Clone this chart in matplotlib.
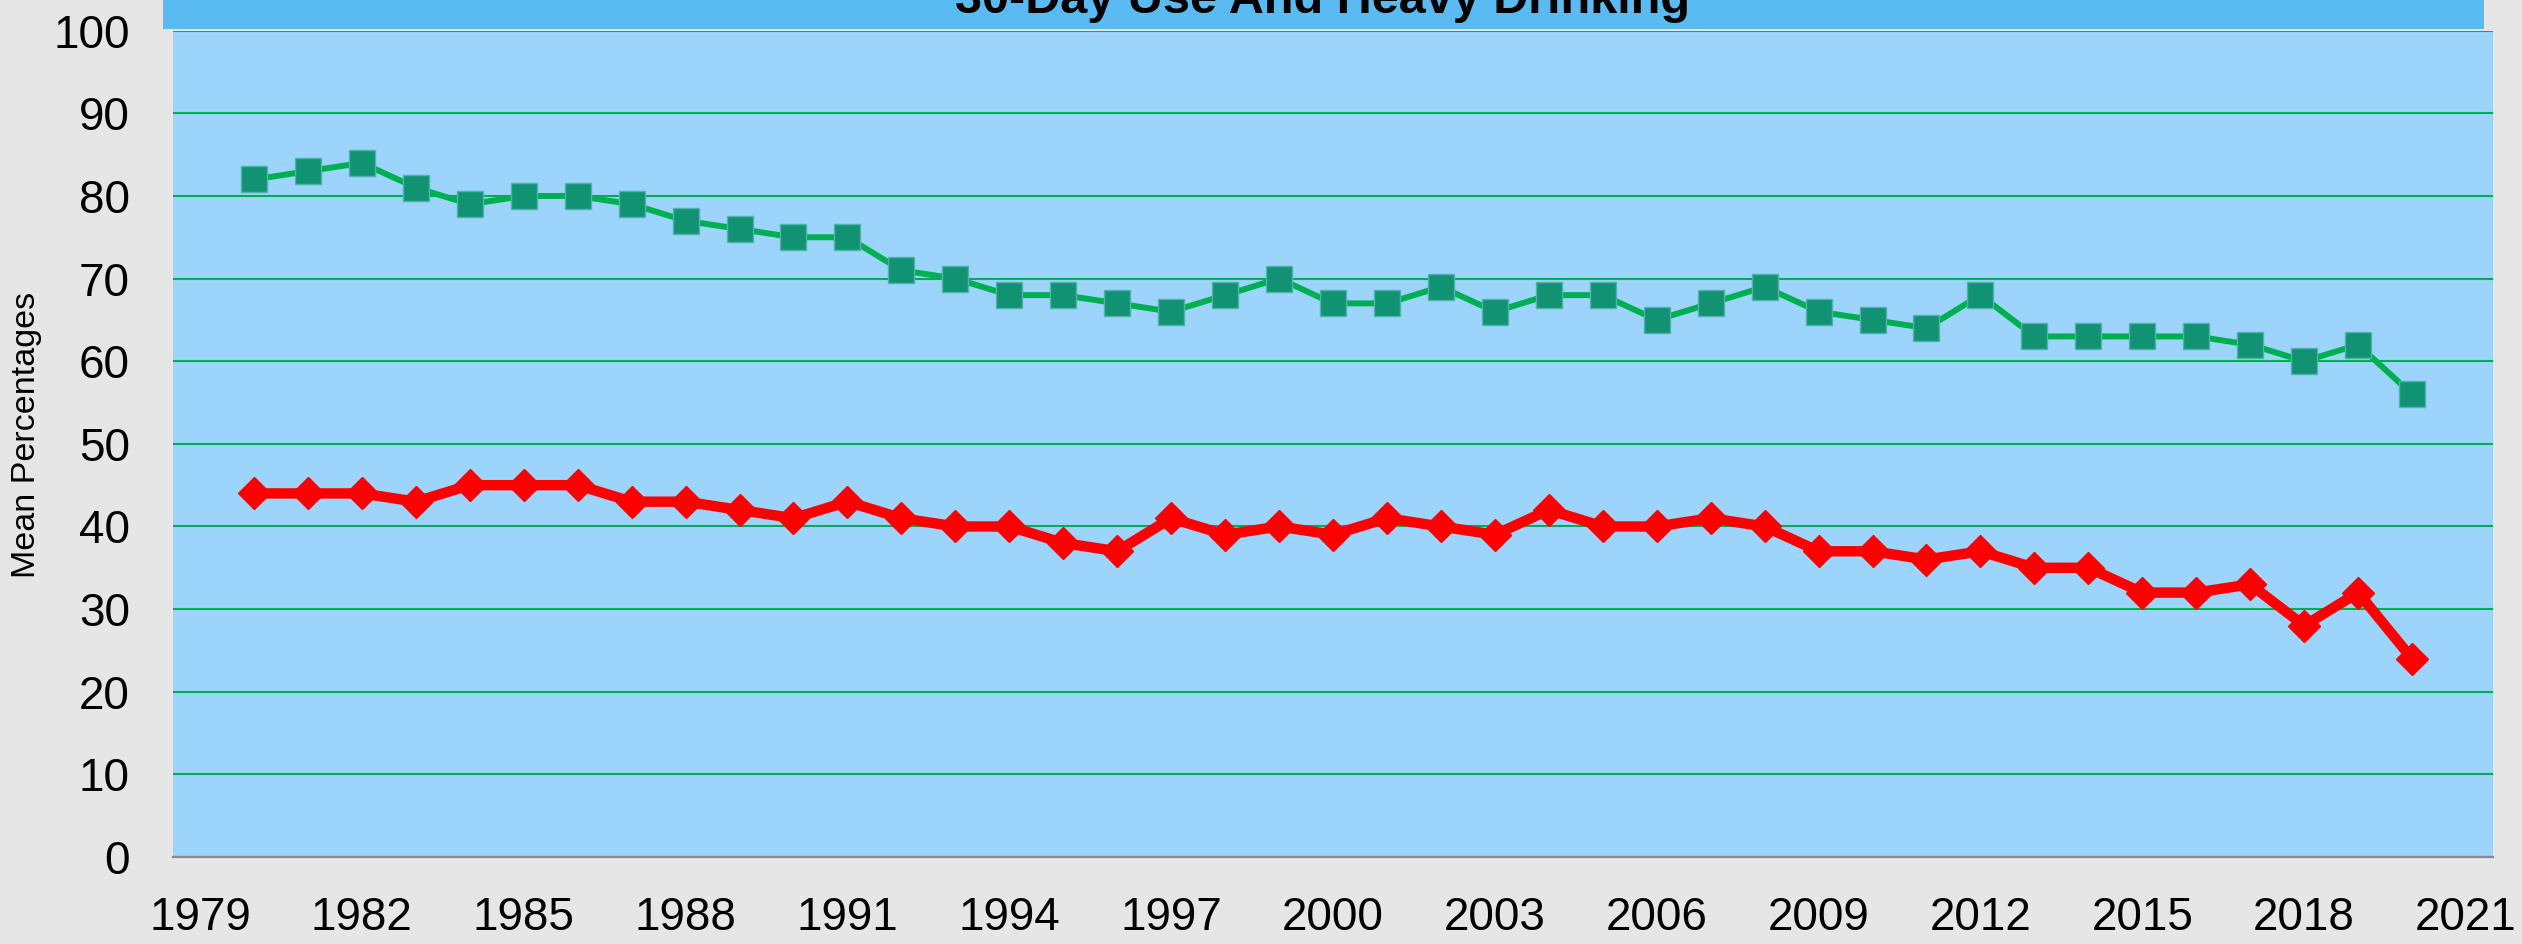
import matplotlib.pyplot as plt
from matplotlib.patches import Rectangle

years = list(range(1980, 2021))
use_30day = [82, 83, 84, 81, 79, 80, 80, 79, 77, 76, 75, 75, 71, 70, 68, 68, 67, 66, 68, 70,
             67, 67, 69, 66, 68, 68, 65, 67, 69, 66, 65, 64, 68, 63, 63, 63, 63, 62, 60, 62, 56]
heavy_drinking = [44, 44, 44, 43, 45, 45, 45, 43, 43, 42, 41, 43, 41, 40, 40, 38, 37, 41, 39, 40,
                  39, 41, 40, 39, 42, 40, 40, 41, 40, 37, 37, 36, 37, 35, 35, 32, 32, 33, 28, 32, 24]
x_ticks = list(range(1979, 2022, 3))
y_ticks = list(range(0, 101, 10))
title = "30-Day Use And Heavy Drinking"

plt.rcParams['font.family'] = ['Liberation Sans', 'DejaVu Sans']

W, H = 2522, 944
fig = plt.figure(figsize=(W / 100, H / 100), dpi=100, facecolor='#E6E6E6')
ax = fig.add_axes([173 / W, 87 / H, (2493 - 173) / W, (913.3 - 87) / H])
ax.set_facecolor('#9DD4FC')

# title banner, cut off at the top like the original
fig.patches.append(Rectangle((163 / W, (H - 29) / H), (2484 - 163) / W, 29 / H + 0.01,
                             transform=fig.transFigure, facecolor='#5ABBF3',
                             edgecolor='none', zorder=0))
fig.text(1323 / W, (H - 13) / H, title, ha='center', va='baseline',
         fontsize=35, fontweight='bold', color='black')

ax.plot(years, use_30day, color='#00B050', lw=4.3, marker='s', ms=18.7,
        mfc='#119373', mec='#4FB3AA', mew=1, zorder=3)
ax.plot(years, heavy_drinking, color='#FF0000', lw=7.5, marker='D', ms=16,
        mfc='#FF0000', mec='#FF0000', zorder=4)

ax.set_xlim(1978.5, 2021.5)
ax.set_ylim(0, 100)
ax.set_xticks(x_ticks)
ax.set_yticks(y_ticks)
ax.tick_params(axis='both', length=0, labelsize=33, colors='black')
ax.tick_params(axis='y', pad=31)
ax.tick_params(axis='x', pad=28)

ax.yaxis.grid(True, color='#00B050', lw=1.5)
ax.set_axisbelow(True)
for s in ['left', 'right', 'top']:
    ax.spines[s].set_visible(False)
ax.spines['bottom'].set_color('#8A8A8A')
ax.spines['bottom'].set_linewidth(1.6)

fig.text(27 / W, (H - 435) / H, "Mean Percentages", rotation=90,
         ha='center', va='center', fontsize=24.5, color='black')

fig.savefig('out.png', dpi=100, facecolor=fig.get_facecolor())
